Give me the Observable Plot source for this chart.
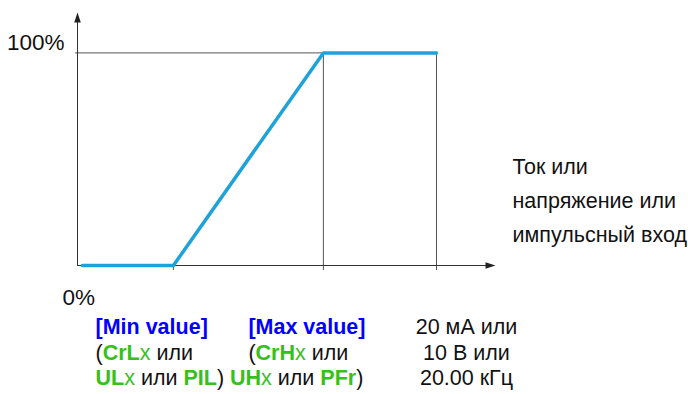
<!DOCTYPE html>
<html><head><meta charset="utf-8">
<script src="https://cdn.jsdelivr.net/npm/d3@7"></script>
<script src="https://cdn.jsdelivr.net/npm/@observablehq/plot@0.6"></script>
<style>body{margin:0;background:#fff} svg{display:block}</style>
</head><body><div id="chart"></div>
<script>
// ---- data ----
const inputX = [2, 39, 100, 146];          // input reference points (start, min, max, end)
const outputY = [0, 0, 100, 100];          // output in %
const xMin = 39, xMax = 100, xEnd = 146, xArrow = 170;
const yFull = 100, yArrow = 119;
const yTickValues = [0, 100];
const yTickLabels = ["0%", "100%"];
const rightLabel = ["Ток или", "напряжение или", "импульсный вход"];
const minLabel = ["^^[Min value]^^", "({{CrL}}<<x>> или", "{{UL}}<<x>> или {{PIL}}) {{UH}}<<x>> или {{PFr}})"];
const maxLabel = ["^^[Max value]^^", "({{CrH}}<<x>> или"];
const endLabel = ["20 мА или", "10 В или", "20.00 кГц"];

// ---- helpers ----
const re = /(\^\^.*?\^\^|\{\{.*?\}\}|<<.*?>>)/;
const strip = s => s.replace(/\^\^|\{\{|\}\}|<<|>>/g, "");
const BLUE = "#0000ff", GREEN = "#36c01c", INK = "#111";
const upHead = {draw(c){ c.moveTo(0,0); c.lineTo(3.3,10); c.lineTo(-3.3,10); c.closePath(); }};
const rightHead = {draw(c){ c.moveTo(0,0); c.lineTo(-10,3.3); c.lineTo(-10,-3.3); c.closePath(); }};
const pts = inputX.map((x, i) => ({x, y: outputY[i]}));
const font = "Liberation Sans, Arial, sans-serif";
const FS = 21.5;

const plot = Plot.plot({
  width: 688, height: 394,
  marginLeft: 77, marginRight: 193, marginTop: 12, marginBottom: 129,
  x: {domain: [0, xArrow], axis: null},
  y: {domain: [0, yArrow], axis: null},
  style: {fontFamily: font, background: "#fff", color: INK},
  marks: [
    Plot.ruleY([yFull], {x1: -0.8, x2: xMax, stroke: "#555", strokeWidth: 1}),
    Plot.ruleX([xMax, xEnd], {y1: -2.4, y2: yFull, stroke: "#555", strokeWidth: 1}),
    Plot.ruleX([xMin], {y1: -2.4, y2: 0, stroke: "#555", strokeWidth: 1}),
    Plot.ruleY([0], {x1: 0, x2: xArrow - 3, stroke: "#333", strokeWidth: 1}),
    Plot.ruleX([0], {y1: 0, y2: yArrow - 3, stroke: "#333", strokeWidth: 1}),
    Plot.dot([{x: 0, y: yArrow}], {x: "x", y: "y", symbol: upHead, fill: "#222", stroke: null, r: 5}),
    Plot.dot([{x: xArrow, y: 0}], {x: "x", y: "y", symbol: rightHead, fill: "#222", stroke: null, r: 5}),
    Plot.line(pts, {x: "x", y: "y", stroke: "#1fa2d8", strokeWidth: 3.5, strokeLinejoin: "miter"}),
    Plot.text([yTickLabels[1]], {x: 0, y: yTickValues[1], text: d => d, dx: -13, dy: -10, textAnchor: "end", fontSize: 22.5, fill: INK}),
    Plot.text([yTickLabels[0]], {x: 0, y: yTickValues[0], text: d => d, dx: -15, dy: 32, textAnchor: "start", fontSize: 22.5, fill: INK}),
    Plot.text([rightLabel.join("\n")], {x: xArrow, y: 0, text: d => d, dx: 17, dy: -68, textAnchor: "start", lineAnchor: "middle", lineHeight: 34 / FS, fontSize: FS, fill: INK}),
    Plot.text([minLabel.map(strip).join("\n")], {x: 0, y: 0, text: d => d, dx: 18, dy: 86, textAnchor: "start", lineAnchor: "middle", lineHeight: 25.5 / FS, fontSize: FS, fill: INK}),
    Plot.text([maxLabel.map(strip).join("\n")], {x: xMax, y: 0, text: d => d, dx: -75, dy: 73.5, textAnchor: "start", lineAnchor: "middle", lineHeight: 25.5 / FS, fontSize: FS, fill: INK}),
    Plot.text([endLabel.join("\n")], {x: xEnd, y: 0, text: d => d, dx: 30, dy: 86, textAnchor: "middle", lineAnchor: "middle", lineHeight: 25.5 / FS, fontSize: FS, fill: INK})
  ]
});

// rich-text styling of the parameter labels
const markup = new Map([...minLabel, ...maxLabel].map(s => [strip(s), s]));
d3.select(plot).selectAll("text, tspan").each(function() {
  if (this.childElementCount) return;
  const t = this.textContent;
  if (!markup.has(t)) return;
  const el = d3.select(this);
  el.text(null);
  for (const part of markup.get(t).split(re)) {
    if (!part) continue;
    let fill = INK, weight = "normal";
    if (part.startsWith("^^")) { fill = BLUE; weight = "bold"; }
    else if (part.startsWith("{{")) { fill = GREEN; weight = "bold"; }
    else if (part.startsWith("<<")) { fill = GREEN; }
    el.append("tspan").attr("fill", fill).attr("font-weight", weight).text(strip(part));
  }
});
document.getElementById("chart").append(plot);
</script>
</body></html>
